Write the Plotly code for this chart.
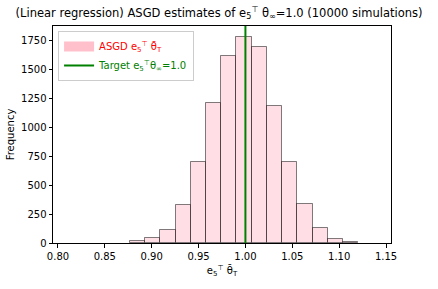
import plotly.graph_objects as go

# Histogram data
bin_edges = [0.8768, 0.8930, 0.9093, 0.9255, 0.9417, 0.9580, 0.9742, 0.9904,
             1.0066, 1.0229, 1.0391, 1.0553, 1.0716, 1.0878, 1.1040, 1.1203]
counts = [20, 43, 112, 331, 699, 1209, 1617, 1779, 1693, 1183, 699, 339, 130, 35, 9]
target_value = 1.0
x_ticks = [0.80, 0.85, 0.90, 0.95, 1.00, 1.05, 1.10, 1.15]
y_ticks = [0, 250, 500, 750, 1000, 1250, 1500, 1750]

lefts = bin_edges[:-1]
widths = [b - a for a, b in zip(bin_edges[:-1], bin_edges[1:])]

FONT = "DejaVu Sans"

fig = go.Figure()
fig.add_trace(go.Bar(
    x=lefts, y=counts, width=widths, offset=0,
    marker=dict(color="rgba(255,192,203,0.5)",
                line=dict(color="rgba(0,0,0,0.5)", width=1)),
    showlegend=False,
))
# legend entries
fig.add_trace(go.Scatter(
    x=[None], y=[None], mode="lines",
    line=dict(color="pink", width=10),
    name='<span style="color:red">ASGD e<sub>5</sub><sup>⊤</sup> θ̄<sub>T</sub></span>',
))
fig.add_trace(go.Scatter(
    x=[None], y=[None], mode="lines",
    line=dict(color="green", width=2),
    name='<span style="color:green">Target e<sub>5</sub><sup>⊤</sup>θ<sub>∞</sub>=1.0</span>',
))
fig.add_shape(type="line", xref="x", yref="paper", x0=target_value, x1=target_value,
              y0=0, y1=1, line=dict(color="green", width=2), layer="above")

axis_common = dict(showline=True, linecolor="black", linewidth=1, mirror=True,
                   ticks="outside", ticklen=3.5, tickcolor="black", tickwidth=1,
                   showgrid=False, zeroline=False, automargin=False,
                   tickfont=dict(family=FONT, size=10, color="black"))

fig.update_layout(
    width=438, height=289,
    margin=dict(l=53, r=47, t=26, b=46),
    paper_bgcolor="white", plot_bgcolor="white",
    font=dict(family=FONT, size=10, color="black"),
    title=dict(text="(Linear regression) ASGD estimates of e<sub>5</sub><sup>⊤</sup> θ<sub>∞</sub>=1.0 (10000 simulations)",
               x=0.5, xanchor="center", y=0.955, yanchor="middle",
               font=dict(family=FONT, size=11.5, color="black")),
    xaxis=dict(range=[0.7947, 1.1553], tickvals=x_ticks,
               ticktext=[f"{v:.2f}" for v in x_ticks],
               title=dict(text="e<sub>5</sub><sup>⊤</sup> θ̄<sub>T</sub>", font=dict(size=10), standoff=6),
               **axis_common),
    yaxis=dict(range=[0, 1876], tickvals=y_ticks,
               title=dict(text="Frequency", font=dict(size=10), standoff=4),
               **axis_common),
    legend=dict(x=0.015, y=0.977, xanchor="left", yanchor="top",
                bgcolor="rgba(255,255,255,0.8)", bordercolor="#cccccc", borderwidth=1,
                font=dict(family=FONT, size=10), itemwidth=30, tracegroupgap=2),
    bargap=0,
)

fig.write_html("out.html", config={"displayModeBar": False},
               post_script="document.body.style.margin='0';")
